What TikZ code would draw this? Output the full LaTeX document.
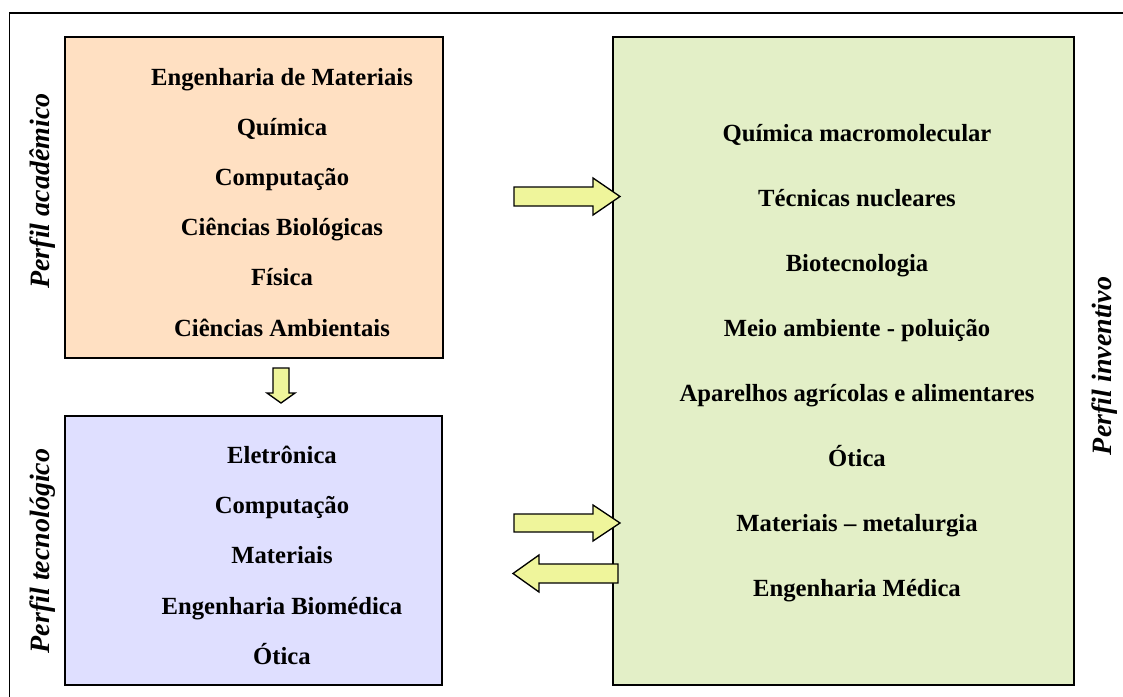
\documentclass[tikz,border=0pt]{standalone}
\usepackage{fontspec}
\setmainfont{Liberation Serif}
\definecolor{peach}{HTML}{FFE0C2}
\definecolor{lav}{HTML}{DFDFFF}
\definecolor{lgreen}{HTML}{E3EFC7}
\definecolor{ayellow}{HTML}{EFF59B}
\begin{document}
\begin{tikzpicture}[x=0.75pt,y=-0.75pt,
  boxstyle/.style={draw=black,line width=1.2pt},
  arrowstyle/.style={draw=black,line width=1pt,fill=ayellow,line join=miter},
  itemtext/.style={font=\fontsize{18.5}{22}\selectfont\bfseries,anchor=base},
  sidetext/.style={font=\fontsize{21}{24}\selectfont\bfseries\itshape,rotate=90}]
\useasboundingbox (0,0) rectangle (1123,696);
\begin{scope}
\clip (0,0) rectangle (1123,696);
\draw[line width=1.1pt] (9.5,720) -- (9.5,13) -- (1140,13);
\end{scope}
% boxes
\node[boxstyle,fill=peach,minimum width=378*0.75pt,minimum height=321*0.75pt,anchor=north west,inner sep=0pt] (acad) at (64,36) {};
\node[boxstyle,fill=lav,minimum width=377*0.75pt,minimum height=269*0.75pt,anchor=north west,inner sep=0pt] (tecn) at (64,415) {};
\node[boxstyle,fill=lgreen,minimum width=461*0.75pt,minimum height=648*0.75pt,anchor=north west,inner sep=0pt] (inv) at (612,36) {};
% academic texts
\node[itemtext] (a1) at (282,85) {Engenharia de Materiais};
\node[itemtext] (a2) at (282,135.2) {Química};
\node[itemtext] (a3) at (282,185.4) {Computação};
\node[itemtext] (a4) at (282,235.6) {Ciências Biológicas};
\node[itemtext] (a5) at (282,285.8) {Física};
\node[itemtext] (a6) at (282,336) {Ciências Ambientais};
% technological texts
\node[itemtext] (t1) at (282,463) {Eletrônica};
\node[itemtext] (t2) at (282,513.4) {Computação};
\node[itemtext] (t3) at (282,563.8) {Materiais};
\node[itemtext] (t4) at (282,614.2) {Engenharia Biomédica};
\node[itemtext] (t5) at (282,664.6) {Ótica};
% inventive texts
\node[itemtext] (i1) at (857,141) {Química macromolecular};
\node[itemtext] (i2) at (857,206) {Técnicas nucleares};
\node[itemtext] (i3) at (857,271) {Biotecnologia};
\node[itemtext] (i4) at (857,336) {Meio ambiente - poluição};
\node[itemtext] (i5) at (857,401) {Aparelhos agrícolas e alimentares};
\node[itemtext] (i6) at (857,466) {Ótica};
\node[itemtext] (i7) at (857,531) {Materiais – metalurgia};
\node[itemtext] (i8) at (857,596) {Engenharia Médica};
% side labels
\node[sidetext] (la) at (43,191) {Perfil acadêmico};
\node[sidetext] (lt) at (43,551) {Perfil tecnológico};
\node[sidetext] (li) at (1105,366) {Perfil inventivo};
% block arrows
\draw[arrowstyle] (514,187) -- (593,187) -- (593,178) -- (620,196.5) -- (593,215) -- (593,206) -- (514,206) -- cycle;
\draw[arrowstyle] (514,514) -- (593,514) -- (593,505) -- (620,523) -- (593,541) -- (593,532) -- (514,532) -- cycle;
\draw[arrowstyle] (618,564) -- (539,564) -- (539,555) -- (513,573.5) -- (539,592) -- (539,583) -- (618,583) -- cycle;
\draw[arrowstyle] (273,368) -- (289,368) -- (289,393) -- (295,393) -- (281,403) -- (267,393) -- (273,393) -- cycle;
\end{tikzpicture}
\end{document}
